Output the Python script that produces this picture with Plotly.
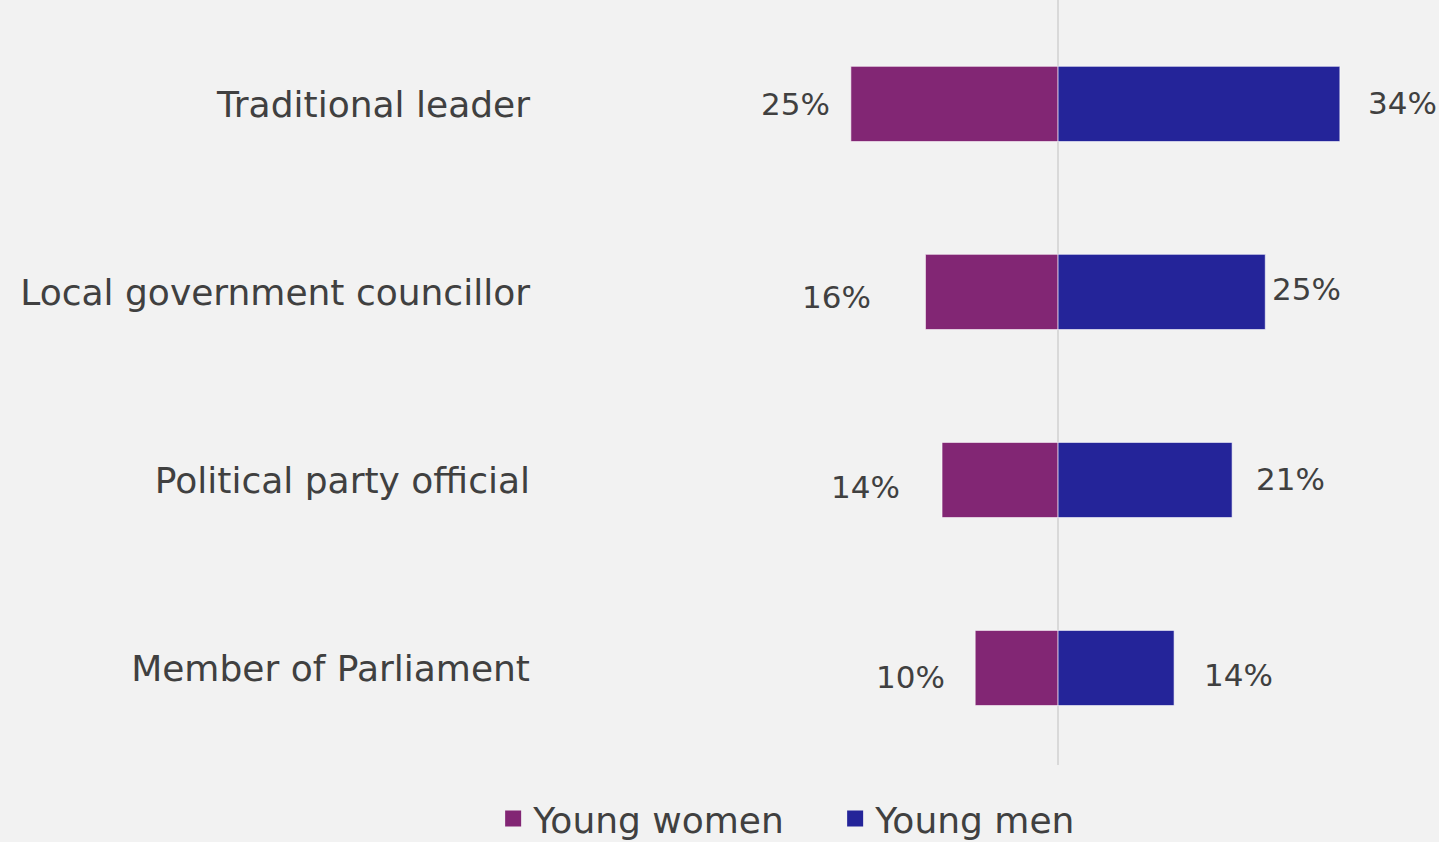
import plotly.graph_objects as go

# Share of young people naming each role
roles = ["Traditional leader", "Local government councillor",
         "Political party official", "Member of Parliament"]
young_women = [25, 16, 14, 10]
young_men = [34, 25, 21, 14]

WOMEN_COLOR = "#822674"
MEN_COLOR = "#242499"
TEXT_COLOR = "#404040"
FONT = "DejaVu Sans"
LABEL_SIZE = 36
VALUE_SIZE = 31

# Hand-tuned label nudges (px) per row
women_xshift = [-19, -52, -40, -28]
women_yshift = [0, -5, -7, -9]
men_xshift = [26, 5, 22, 28]
men_yshift = [1, 3, 1, -7]

rows = list(range(len(roles)))

fig = go.Figure()
fig.add_trace(go.Bar(
    y=rows, x=[-v for v in young_women], orientation="h", width=0.4,
    marker=dict(color=WOMEN_COLOR, line=dict(color="rgba(255,255,255,0.6)", width=1)),
    showlegend=False, hoverinfo="skip",
))
fig.add_trace(go.Bar(
    y=rows, x=young_men, orientation="h", width=0.4,
    marker=dict(color=MEN_COLOR, line=dict(color="rgba(255,255,255,0.6)", width=1)),
    showlegend=False, hoverinfo="skip",
))

# Legend entries with square swatches
for name, color in [("Young women", WOMEN_COLOR), ("Young men", MEN_COLOR)]:
    fig.add_trace(go.Scatter(
        x=[None], y=[None], mode="markers", name=name,
        marker=dict(symbol="square", size=20, color=color),
    ))

annotations = []
for i, v in enumerate(young_women):
    annotations.append(dict(
        x=-v, y=i, xref="x", yref="y", text=f"{v}%", showarrow=False,
        xanchor="right", yanchor="middle",
        xshift=women_xshift[i], yshift=women_yshift[i],
        font=dict(family=FONT, size=VALUE_SIZE, color=TEXT_COLOR),
    ))
for i, v in enumerate(young_men):
    annotations.append(dict(
        x=v, y=i, xref="x", yref="y", text=f"{v}%", showarrow=False,
        xanchor="left", yanchor="middle",
        xshift=men_xshift[i], yshift=men_yshift[i],
        font=dict(family=FONT, size=VALUE_SIZE, color=TEXT_COLOR),
    ))

fig.update_layout(
    width=1439, height=842,
    margin=dict(l=545, r=0, t=0, b=77, autoexpand=False),
    paper_bgcolor="#f2f2f2", plot_bgcolor="#f2f2f2",
    barmode="relative",
    font=dict(family=FONT, size=LABEL_SIZE, color=TEXT_COLOR),
    annotations=annotations,
    legend=dict(
        orientation="h", x=-0.058, y=-0.031, xanchor="left", yanchor="top",
        font=dict(family=FONT, size=LABEL_SIZE, color=TEXT_COLOR),
        bgcolor="rgba(0,0,0,0)", itemwidth=30, tracegroupgap=0,
        entrywidth=297, entrywidthmode="pixels",
    ),
    xaxis=dict(
        range=[-61.9, 45.96], showgrid=False, showticklabels=False,
        zeroline=True, zerolinecolor="#d9d9d9", zerolinewidth=2,
        fixedrange=True,
    ),
    yaxis=dict(
        range=[3.516, -0.553], tickvals=rows, ticktext=roles,
        showgrid=False, zeroline=False, ticks="", ticklabelstandoff=14,
        tickfont=dict(family=FONT, size=LABEL_SIZE, color=TEXT_COLOR),
        fixedrange=True,
    ),
)

fig.write_html("out.html")
